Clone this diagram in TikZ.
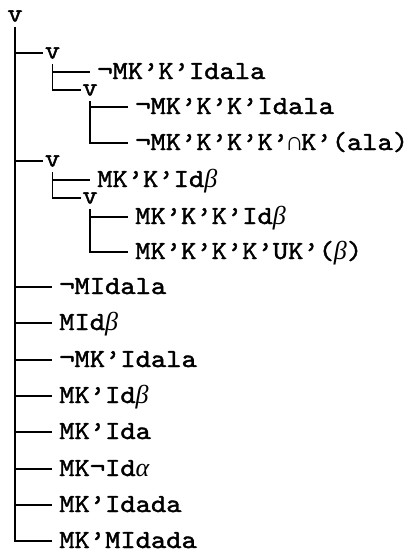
\documentclass[tikz,border=0pt]{standalone}
\usepackage{fontspec}
\newfontfamily\treefont[FakeStretch=1.12,FakeBold=1.6,Ligatures=TeX]{lmmono10-regular.otf}
\newfontfamily\grkfont{Liberation Serif}
\newcommand\gbeta{{\grkfont\itshape β}}
\newcommand\galpha{{\grkfont\itshape α}}
\newcommand\gcap{\makebox[13pt]{\grkfont ∩}}
\begin{document}
\begin{tikzpicture}[x=1pt,y=-1pt,line width=1.5pt,
  every node/.style={font=\treefont\fontsize{26}{30}\selectfont},
  vnode/.style={inner xsep=1pt,inner ysep=0pt},
  leaf/.style={anchor=west,inner xsep=6.5pt,inner ysep=0pt,text height=14pt,text depth=0pt},
  link/.style={shorten <=5pt}]
\useasboundingbox (0,0) rectangle (411,549);

% disjunction nodes
\node[vnode] (r)   at (15,16)   {v};
\node[vnode] (v1)  at (52.5,53) {v};
\node[vnode] (v11) at (90,90)   {v};
\node[vnode] (v2)  at (52.5,161){v};
\node[vnode] (v21) at (90,198)  {v};

% formulas
\node[leaf] (a1)  at (90,72)   {¬MK'K'Idala};
\node[leaf] (a11) at (128,107) {¬MK'K'K'Idala};
\node[leaf] (a12) at (128,143) {¬MK'K'K'K'\gcap K'(ala)};
\node[leaf] (b1)  at (90,180)  {MK'K'Id\gbeta};
\node[leaf] (b11) at (128,217) {MK'K'K'Id\gbeta};
\node[leaf] (b12) at (128,252) {MK'K'K'K'UK'(\gbeta)};
\node[leaf] (l1)  at (52,287)  {¬MIdala};
\node[leaf] (l2)  at (52,323)  {MId\gbeta};
\node[leaf] (l3)  at (52,360)  {¬MK'Idala};
\node[leaf] (l4)  at (52,396)  {MK'Id\gbeta};
\node[leaf] (l5)  at (52,432)  {MK'Ida};
\node[leaf] (l6)  at (52,469)  {MK¬Id\galpha};
\node[leaf] (l7)  at (52,505)  {MK'Idada};
\node[leaf] (l8)  at (52,541)  {MK'MIdada};

% branches
\foreach \c in {v1,v2,l1,l2,l3,l4,l5,l6,l7,l8}
  \draw[link] (r.south) |- (\c.west);
\foreach \c in {a1,v11}
  \draw[link] (v1.south) |- (\c.west);
\foreach \c in {a11,a12}
  \draw[link] (v11.south) |- (\c.west);
\foreach \c in {b1,v21}
  \draw[link] (v2.south) |- (\c.west);
\foreach \c in {b11,b12}
  \draw[link] (v21.south) |- (\c.west);
\end{tikzpicture}
\end{document}
